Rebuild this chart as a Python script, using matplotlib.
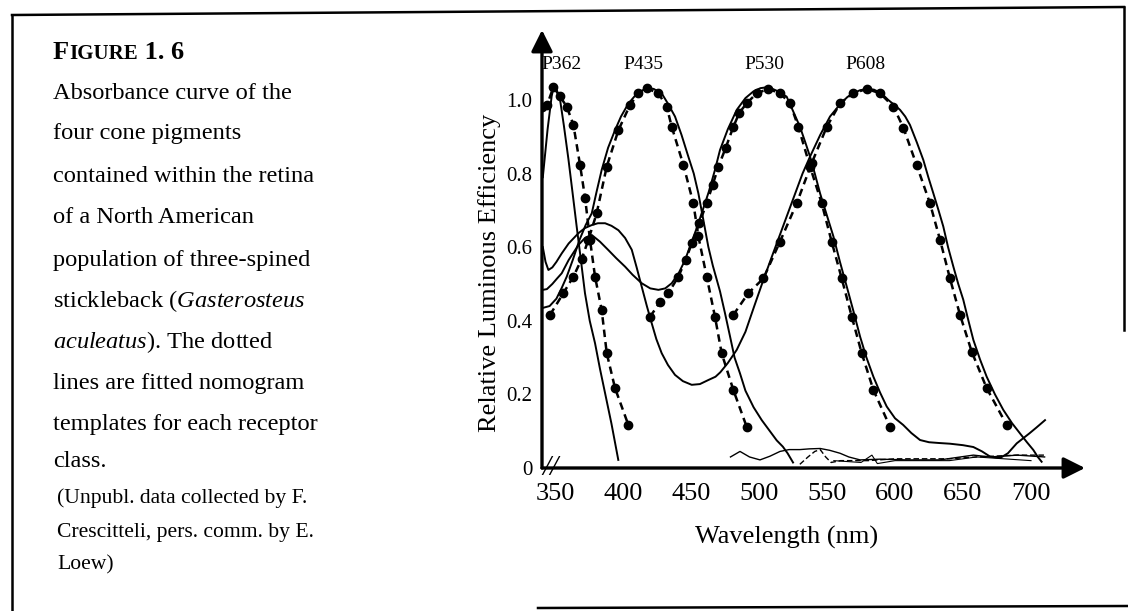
import matplotlib.pyplot as plt
from matplotlib.lines import Line2D

plt.rcParams['font.family'] = 'Liberation Serif'
plt.rcParams['mathtext.fontset'] = 'custom'
plt.rcParams['mathtext.rm'] = 'Liberation Serif'
plt.rcParams['mathtext.it'] = 'Liberation Serif:italic'

# ---- data (wavelength nm, relative efficiency) ----
p362_meas_nm = [341, 344.5, 347.5, 349, 351, 353.7, 356.5, 359.8, 362.8, 365.9, 369, 372,
                375.5, 379.4, 383, 386.8, 391.5, 396.5]
p362_meas_val = [0.79, 0.92, 1.01, 1.035, 1.03, 1.0, 0.93, 0.84, 0.75, 0.656, 0.565, 0.475,
                 0.40, 0.339, 0.27, 0.203, 0.12, 0.022]
p362_fit_nm = [340.2, 344, 348.8, 353.5, 358.6, 363.5, 368.4, 372.1, 375.7, 379.4, 384.3,
               388, 394.1, 403.9]
p362_fit_val = [0.982, 0.985, 1.035, 1.01, 0.982, 0.932, 0.823, 0.733, 0.62, 0.52, 0.429,
                0.312, 0.217, 0.117]

p435_meas_nm = [341, 346, 351, 355, 358.6, 363, 368, 372.5, 377, 380.5, 384.3, 389, 394.1,
                398.5, 403.9, 408.5, 413.7, 417.4, 422.5, 428.4, 433, 438.2, 443, 448, 452,
                455.4, 459, 462.7, 466, 471.3, 475, 478.7, 482, 486, 490, 496, 502, 508, 513,
                517.5, 521, 525]
p435_meas_val = [0.435, 0.44, 0.46, 0.49, 0.52, 0.565, 0.62, 0.66, 0.692, 0.75, 0.81, 0.87,
                 0.918, 0.955, 0.99, 1.01, 1.025, 1.032, 1.03, 1.018, 0.99, 0.955, 0.905,
                 0.846, 0.80, 0.746, 0.675, 0.601, 0.55, 0.48, 0.42, 0.357, 0.30, 0.257, 0.21,
                 0.165, 0.13, 0.10, 0.075, 0.058, 0.04, 0.015]
p435_fit_nm = [346.3, 356.1, 363.5, 369.6, 374.5, 380.6, 388, 396.6, 405.1, 411.3, 417.4,
               426, 432.1, 435.8, 444.4, 451.7, 455.4, 461.5, 467.6, 472.5, 481.1, 490.9]
p435_fit_val = [0.416, 0.475, 0.52, 0.568, 0.62, 0.692, 0.819, 0.918, 0.986, 1.018, 1.032,
                1.018, 0.982, 0.927, 0.823, 0.719, 0.629, 0.52, 0.411, 0.312, 0.212, 0.112]

p530_meas_nm = [341, 344, 348, 351.5, 354.9, 360, 367.2, 372, 377, 383, 389.2, 395, 401.5,
                407, 413.7, 420, 426, 431, 435.8, 441, 445.6, 450, 454, 457.8, 463, 467.6,
                471.3, 477, 483.6, 490, 495.8, 501, 506.9, 513, 520.3, 525, 530.1, 534,
                537.5, 541, 544.9, 550, 554.7, 559.5, 564.5, 569.5, 574.3, 579, 584.1, 589,
                593.9, 600, 606, 612, 618.4, 625, 632, 640.4, 650, 657.6, 664, 669.9, 677.2,
                683, 689.5, 698.8, 704, 710.3]
p530_meas_val = [0.484, 0.486, 0.50, 0.515, 0.529, 0.565, 0.606, 0.625, 0.633, 0.615, 0.592,
                 0.57, 0.547, 0.525, 0.502, 0.488, 0.484, 0.488, 0.502, 0.53, 0.565, 0.61,
                 0.65, 0.692, 0.75, 0.81, 0.864, 0.92, 0.973, 1.005, 1.023, 1.032, 1.035,
                 1.025, 1.009, 0.97, 0.927, 0.885, 0.846, 0.80, 0.746, 0.685, 0.629, 0.56,
                 0.493, 0.425, 0.357, 0.30, 0.248, 0.205, 0.167, 0.135, 0.117, 0.095, 0.076,
                 0.07, 0.068, 0.066, 0.062, 0.057, 0.045, 0.031, 0.027, 0.04, 0.067, 0.094,
                 0.11, 0.13]
p530_fit_nm = [419.9, 427, 433.3, 440.7, 446, 450.5, 456, 461.5, 466, 470.1, 475.5, 481.1,
               485.5, 490.9, 498.3, 506.9, 515.4, 522.8, 528.9, 537.5, 546.1, 553.4, 560.8,
               568.2, 575.5, 584.1, 596.3]
p530_fit_val = [0.411, 0.45, 0.475, 0.52, 0.565, 0.61, 0.665, 0.719, 0.77, 0.819, 0.87, 0.927,
                0.965, 0.991, 1.018, 1.03, 1.018, 0.991, 0.927, 0.819, 0.719, 0.615, 0.515,
                0.411, 0.312, 0.212, 0.112]

p608_meas_nm = [341, 343, 345.1, 348, 351, 354.9, 360, 367.2, 372, 377, 381.5, 386.8, 391.5,
                396.6, 401.5, 406.4, 410, 413.7, 417.5, 421.1, 424.5, 428.4, 433, 438.2, 444,
                450.5, 456.5, 462.7, 468, 471.5, 477, 483.6, 490, 496.5, 503.2, 510, 515,
                520.3, 527, 532, 537.5, 545, 552.2, 560, 565, 569.3, 574, 579.2, 584.5, 590,
                595, 600, 603.7, 607.5, 611, 616, 620.8, 624.5, 628.2, 632, 635.5, 639, 642.9,
                646.5, 650.2, 654, 657.6, 662.5, 667.4, 673.5, 679.6, 686, 691.9, 697, 701.7,
                705, 707.8]
p608_meas_val = [0.60, 0.56, 0.538, 0.545, 0.56, 0.583, 0.61, 0.638, 0.652, 0.66, 0.665,
                 0.665, 0.658, 0.646, 0.625, 0.593, 0.545, 0.493, 0.44, 0.393, 0.35, 0.312,
                 0.28, 0.253, 0.236, 0.226, 0.228, 0.239, 0.248, 0.26, 0.285, 0.321, 0.37,
                 0.44, 0.511, 0.58, 0.63, 0.683, 0.75, 0.80, 0.846, 0.905, 0.955, 0.99, 1.008,
                 1.018, 1.026, 1.03, 1.028, 1.018, 1.0, 0.985, 0.973, 0.955, 0.932, 0.885,
                 0.837, 0.79, 0.746, 0.70, 0.656, 0.60, 0.547, 0.50, 0.457, 0.40, 0.348,
                 0.295, 0.248, 0.20, 0.158, 0.122, 0.094, 0.07, 0.049, 0.03, 0.017]
p608_fit_nm = [481.1, 492.1, 503.2, 515.4, 527.7, 538.7, 549.8, 559.6, 569.3, 579.2, 589,
               598.8, 606.1, 615.9, 625.7, 633.1, 640.4, 647.8, 656.4, 667.4, 682.1]
p608_fit_val = [0.416, 0.475, 0.515, 0.615, 0.719, 0.828, 0.927, 0.991, 1.018, 1.03, 1.018,
                0.982, 0.925, 0.823, 0.719, 0.62, 0.515, 0.416, 0.316, 0.217, 0.117]

# small noisy traces along the baseline
noise_a_nm = [479, 486, 493, 500.7, 508, 515.4, 522, 530, 537, 545, 552, 559.6, 566, 574.3,
              589, 608.6, 633, 657.6, 670, 690, 710]
noise_a_val = [0.03, 0.045, 0.03, 0.022, 0.032, 0.045, 0.05, 0.05, 0.052, 0.053, 0.048, 0.04,
               0.03, 0.022, 0.024, 0.022, 0.022, 0.035, 0.03, 0.035, 0.03]
noise_b_nm = [530, 536, 541, 545, 549, 553, 560, 580, 600, 640, 660, 690, 710]
noise_b_val = [0.01, 0.03, 0.045, 0.05, 0.03, 0.015, 0.02, 0.02, 0.025, 0.025, 0.03, 0.035,
               0.035]
noise_c_nm = [555, 575, 583, 587, 600, 640, 660, 700]
noise_c_val = [0.02, 0.015, 0.035, 0.012, 0.02, 0.02, 0.03, 0.02]

peak_names = ['P362', 'P435', 'P530', 'P608']
x_ticks = [350, 400, 450, 500, 550, 600, 650, 700]
y_ticks = [0, 0.2, 0.4, 0.6, 0.8, 1.0]
y_tick_labels = ['0', '0.2', '0.4', '0.6', '0.8', '1.0']

caption = [
    'Absorbance curve of the',
    'four cone pigments',
    'contained within the retina',
    'of a North American',
    'population of three-spined',
    r'stickleback ($\mathit{Gasterosteus}$',
    r'$\mathit{aculeatus}$). The dotted',
    'lines are fitted nomogram',
    'templates for each receptor',
    'class.',
]
credit = [
    '(Unpubl. data collected by F.',
    'Crescitteli, pers. comm. by E.',
    'Loew)',
]

W, H = 1128, 611


def fx(px):
    return px / W


def fy(py):
    return 1 - py / H


fig = plt.figure(figsize=(11.28, 6.11), dpi=100)
fig.patch.set_facecolor('white')

# chart area
ax = fig.add_axes([fx(542), fy(468), fx(1085) - fx(542), fy(30) - fy(468)])
ax.set_xlim(340.4, 739.7)
ax.set_ylim(0, 1.19)
for s in ax.spines.values():
    s.set_visible(False)
ax.set_xticks(x_ticks)
ax.set_xticklabels([str(t) for t in x_ticks], fontsize=19)
ax.set_yticks(y_ticks)
ax.set_yticklabels(y_tick_labels, fontsize=15)
ax.tick_params(length=0)
ax.tick_params(axis='x', pad=11)
ax.tick_params(axis='y', pad=7)

# axes drawn as arrows
arrow = dict(arrowstyle='-|>,head_length=1.3,head_width=0.65', lw=2.4, color='black',
             shrinkA=0, shrinkB=0)
ax.annotate('', xy=(1, 0), xytext=(0, 0), xycoords='axes fraction', arrowprops=arrow)
ax.annotate('', xy=(0, 1), xytext=(0, 0), xycoords='axes fraction', arrowprops=arrow)
# axis break mark
ax.text(346.5, 0.0, '//', ha='center', va='center', fontsize=21, fontstyle='italic',
        clip_on=False)

measured = [(p362_meas_nm, p362_meas_val), (p435_meas_nm, p435_meas_val),
            (p530_meas_nm, p530_meas_val), (p608_meas_nm, p608_meas_val)]
fitted = [(p362_fit_nm, p362_fit_val), (p435_fit_nm, p435_fit_val),
          (p530_fit_nm, p530_fit_val), (p608_fit_nm, p608_fit_val)]

for nm, val in measured:
    ax.plot(nm, val, color='black', lw=1.4)
for nm, val in fitted:
    ax.plot(nm, val, color='black', lw=1.8, ls=(0, (3, 2)), marker='o', ms=6)

ax.plot(noise_a_nm, noise_a_val, color='black', lw=1.0)
ax.plot(noise_b_nm, noise_b_val, color='black', lw=1.0, ls=(0, (4, 2)))
ax.plot(noise_c_nm, noise_c_val, color='black', lw=0.8)

# peak labels
label_x = [355, 415, 504, 578]
for name, x in zip(peak_names, label_x):
    ax.text(x, 1.095, name, ha='center', va='center', fontsize=14, clip_on=False)

fig.text(fx(490), fy(273), 'Relative Luminous Efficiency', rotation=90, ha='center',
         va='center', fontsize=19)
fig.text(fx(787), fy(537), 'Wavelength (nm)', ha='center', va='center', fontsize=19)

# caption on the left
t = fig.text(fx(53), fy(59), 'F', fontsize=19, fontweight='bold', va='baseline')
t = plt.annotate('IGURE', xy=(1, fy(59)), xycoords=(t, 'figure fraction'), fontsize=15,
                 fontweight='bold', va='baseline', ha='left')
plt.annotate(' 1. 6', xy=(1, fy(59)), xycoords=(t, 'figure fraction'), fontsize=19,
             fontweight='bold', va='baseline', ha='left')

caption_y = [98.6, 139.5, 182.4, 223.3, 266.2, 307, 348, 389, 429.8, 466.9]
for line, y in zip(caption, caption_y):
    fig.text(fx(53), fy(y), line, fontsize=17.6, va='baseline')
credit_y = [503.4, 536.5, 569.6]
for line, y in zip(credit, credit_y):
    fig.text(fx(57), fy(y), line, fontsize=15.6, va='baseline')

# frame lines of the scanned page
frame = [((12, 15), (1124, 7)), ((12, 15), (12, 611)), ((1124, 7), (1124, 330)),
         ((538, 608), (1128, 606))]
for (x0, y0), (x1, y1) in frame:
    fig.add_artist(Line2D([fx(x0), fx(x1)], [fy(y0), fy(y1)], color='black', lw=1.8,
                          transform=fig.transFigure))

fig.savefig('out.png', dpi=100, facecolor='white')
